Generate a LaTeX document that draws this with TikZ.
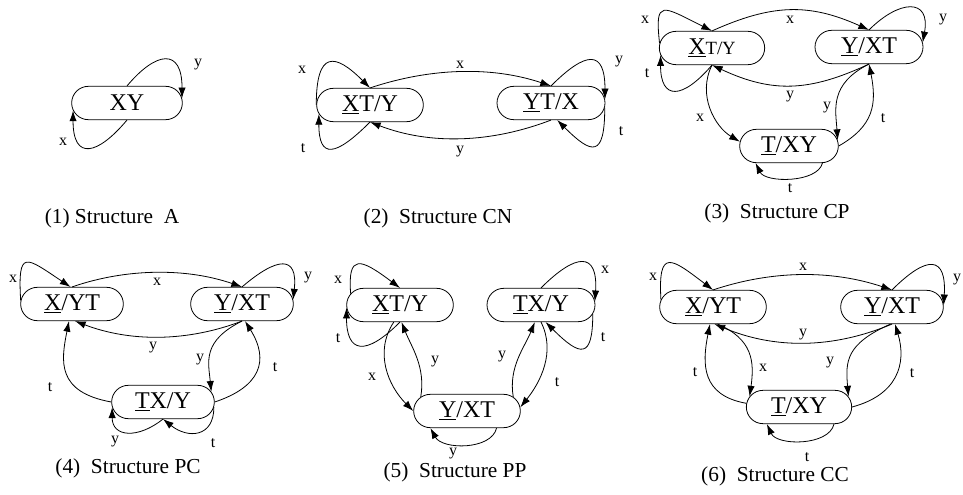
\documentclass[tikz,border=0pt]{standalone}
\usepackage{fontspec}
\setmainfont{Liberation Serif}
\usetikzlibrary{shapes.misc,arrows.meta}
\tikzstyle{state} = [draw, rounded rectangle, minimum width=79pt, minimum height=25pt, inner sep=0pt, line width=0.6pt, font=\fontsize{18}{21}\selectfont]
\tikzstyle{line} = [draw, line width=0.6pt, -{Latex[length=8pt,width=5.5pt]}]
\tikzstyle{lbl} = [inner sep=0pt, font=\fontsize{12}{14}\selectfont]
\tikzstyle{caption} = [inner sep=0pt, font=\fontsize{16}{19}\selectfont]

\begin{document}
\begin{tikzpicture}[x=0.75pt, y=0.75pt]
    \useasboundingbox (0,0) rectangle (963,-495);

    % (1) Structure A
    \node [state, minimum width=83pt] (axy) at (127,-103) {XY};
    \path [line] (axy.north) .. controls +(50:45) and +(0,51) .. (axy.5);
    \path [line] (axy.south) .. controls +(230:45) and +(0,-51) .. (axy.188);
    \node [lbl] (ay) at (198,-65) {y};
    \node [lbl] (ax) at (63,-142) {x};
    \node [caption] (acap) at (112,-218) {(1) Structure\ \ A};

    % (2) Structure CN
    \node [state, minimum width=80pt] (cnx) at (370,-105) {\underline{X}T/Y};
    \node [state, minimum width=81pt] (cny) at (551,-103) {\underline{Y}T/X};
    \path [line] (cnx.north) .. controls +(60,20) and +(-60,20) .. (cny.north);
    \path [line] (cny.south) .. controls +(-60,-23) and +(60,-23) .. (cnx.south);
    \path [line] (cnx.west) .. controls +(0,55) and +(-35,35) .. (cnx.north);
    \path [line] (cnx.south) .. controls +(-35,-35) and +(0,-45) .. (cnx.190);
    \path [line] (cny.north) .. controls +(35,35) and +(0,50) .. (cny.4);
    \path [line] (cny.-5) .. controls +(0,-50) and +(35,-35) .. (cny.-70);
    \node [lbl] (cnlx) at (302,-70) {x};
    \node [lbl] (cnlt) at (303,-148) {t};
    \node [lbl] (cnax) at (460,-65) {x};
    \node [lbl] (cnay) at (460,-152) {y};
    \node [lbl] (cnry) at (619,-62) {y};
    \node [lbl] (cnrt) at (621,-131) {t};
    \node [caption] (cncap) at (438,-218) {(2)\ \ Structure CN};

    % (3) Structure CP
    \node [state] (cpx) at (712,-48) {\underline{X}{\fontsize{14}{16}\selectfont T/Y}};
    \node [state, minimum width=81pt] (cpy) at (869,-47) {\underline{Y}/XT};
    \node [state, minimum width=74pt] (cpt) at (789,-146) {\underline{T}/XY};
    \path [line] (cpx.north) .. controls +(60,27) and +(-60,27) .. (cpy.north);
    \path [line] (cpy.south) .. controls +(-60,-28) and +(60,-28) .. (cpx.south);
    \path [line] (cpx.175) .. controls +(-5,45) and +(-50,25) .. (cpx.north);
    \path [line] (cpx.south) .. controls +(-30,-35) and +(0,-45) .. (cpx.188);
    \path [line] (cpy.north) .. controls +(30,30) and +(8,45) .. (cpy.5);
    \path [line] (cpx.south) .. controls +(-15,-30) and +(-25,15) .. (cpt.175);
    \path [line] (cpy.south) .. controls +(-40,-20) and +(-2,30) .. (cpt.7);
    \path [line] (cpt.east) .. controls +(35,20) and +(8,-40) .. (cpy.south);
    \path [line] (cpt.-27) .. controls +(-5,-20) and +(10,-20) .. (cpt.207);
    \node [lbl] (cplx) at (645,-20) {x};
    \node [lbl] (cplt) at (647,-73) {t};
    \node [lbl] (cpax) at (790,-20) {x};
    \node [lbl] (cpay) at (790,-97) {y};
    \node [lbl] (cpry) at (943,-20) {y};
    \node [lbl] (cpbx) at (700,-118) {x};
    \node [lbl] (cpby) at (827,-108) {y};
    \node [lbl] (cpbt) at (883,-118) {t};
    \node [lbl] (cptt) at (790,-188) {t};
    \node [caption] (cpcap) at (777,-213) {(3)\ \ Structure CP};

    % (4) Structure PC
    \node [state, minimum width=77pt] (pcx) at (72,-304) {\underline{X}/YT};
    \node [state, minimum width=77pt] (pcy) at (242,-304) {\underline{Y}/XT};
    \node [state, minimum width=77pt] (pct) at (163,-402) {\underline{T}X/Y};
    \path [line] (pcx.north) .. controls +(55,19) and +(-55,19) .. (pcy.north);
    \path [line] (pcy.south) .. controls +(-55,-21) and +(55,-21) .. (pcx.-80);
    \path [line] (pcx.176) .. controls +(-3,52) and +(-45,30) .. (pcx.95);
    \path [line] (pcy.north) .. controls +(35,30) and +(5,45) .. (pcy.5);
    \path [line] (pct.west) .. controls +(-55,10) and +(-8,-40) .. (pcx.-100);
    \path [line] (pcy.south) .. controls +(-40,-20) and +(-3,30) .. (pct.12);
    \path [line] (pct.east) .. controls +(45,15) and +(25,-40) .. (pcy.-80);
    \path [line] (pct.south) .. controls +(-25,-20) and +(0,-30) .. (pct.186);
    \path [line] (pct.-6) .. controls +(0,-30) and +(25,-20) .. (pct.south);
    \node [lbl] (pclx) at (13,-279) {x};
    \node [lbl] (pcax) at (157,-282) {x};
    \node [lbl] (pcry) at (308,-278) {y};
    \node [lbl] (pcay) at (153,-348) {y};
    \node [lbl] (pclt) at (50,-387) {t};
    \node [lbl] (pcby) at (200,-360) {y};
    \node [lbl] (pcbt) at (275,-367) {t};
    \node [lbl] (pcty) at (115,-442) {y};
    \node [lbl] (pctt) at (213,-443) {t};
    \node [caption] (pccap) at (128,-468) {(4)\ \ Structure PC};

    % (5) Structure PP
    \node [state, minimum width=80pt] (ppx) at (400,-305) {\underline{X}T/Y};
    \node [state, minimum width=81pt] (ppt) at (541,-305) {\underline{T}X/Y};
    \node [state, minimum width=80pt] (ppy) at (467,-411) {\underline{Y}/XT};
    \path [line] (ppx.167) .. controls +(-3,40) and +(-40,30) .. (ppx.north);
    \path [line] (ppx.south) .. controls +(-35,-35) and +(0,-45) .. (ppx.183);
    \path [line] (ppx.-110) .. controls +(-20,-30) and +(-25,25) .. (ppy.west);
    \path [line] (ppy.163) .. controls +(5,30) and +(10,-25) .. (ppx.-85);
    \path [line] (ppt.north) .. controls +(35,35) and +(3,50) .. (ppt.4);
    \path [line] (ppt.-10) .. controls +(0,-45) and +(35,-35) .. (ppt.-75);
    \path [line] (ppy.17) .. controls +(-5,30) and +(-10,-25) .. (ppt.-110);
    \path [line] (ppt.south) .. controls +(15,-30) and +(20,25) .. (ppy.4);
    \path [line] (ppy.-30) .. controls +(-5,-22) and +(12,-22) .. (ppy.205);
    \node [lbl] (pplx) at (338,-280) {x};
    \node [lbl] (pplt) at (338,-338) {t};
    \node [lbl] (ppbx) at (372,-377) {x};
    \node [lbl] (ppby) at (435,-362) {y};
    \node [lbl] (pprx) at (605,-270) {x};
    \node [lbl] (pprt) at (603,-337) {t};
    \node [lbl] (ppcy) at (502,-357) {y};
    \node [lbl] (ppct) at (557,-382) {t};
    \node [lbl] (ppty) at (453,-454) {y};
    \node [caption] (ppcap) at (455,-472) {(5)\ \ Structure PP};

    % (6) Structure CC
    \node [state, minimum width=80pt] (ccx) at (713,-307) {\underline{X}/YT};
    \node [state, minimum width=77pt] (ccy) at (892,-307) {\underline{Y}/XT};
    \node [state, minimum width=79pt] (cct) at (799,-407) {\underline{T}/XY};
    \path [line] (ccx.north) .. controls +(60,20) and +(-60,20) .. (ccy.north);
    \path [line] (ccy.south) .. controls +(-60,-25) and +(60,-25) .. (ccx.-85);
    \path [line] (ccx.172) .. controls +(-3,52) and +(-42,32) .. (ccx.north);
    \path [line] (ccy.north) .. controls +(35,35) and +(3,50) .. (ccy.2);
    \path [line] (cct.176) .. controls +(-45,8) and +(-8,-40) .. (ccx.-100);
    \path [line] (ccx.-75) .. controls +(35,-15) and +(5,35) .. (cct.168);
    \path [line] (ccy.-95) .. controls +(-45,-20) and +(-3,35) .. (cct.12);
    \path [line] (cct.east) .. controls +(45,12) and +(12,-40) .. (ccy.-80);
    \path [line] (cct.-26) .. controls +(-5,-22) and +(10,-22) .. (cct.208);
    \node [lbl] (cclx) at (653,-277) {x};
    \node [lbl] (ccax) at (803,-267) {x};
    \node [lbl] (ccry) at (957,-280) {y};
    \node [lbl] (ccay) at (803,-335) {y};
    \node [lbl] (cclt) at (695,-372) {t};
    \node [lbl] (ccbx) at (763,-368) {x};
    \node [lbl] (ccby) at (830,-363) {y};
    \node [lbl] (ccbt) at (912,-373) {t};
    \node [lbl] (cctt) at (807,-457) {t};
    \node [caption] (cccap) at (775,-476) {(6)\ \ Structure CC};
\end{tikzpicture}
\end{document}
